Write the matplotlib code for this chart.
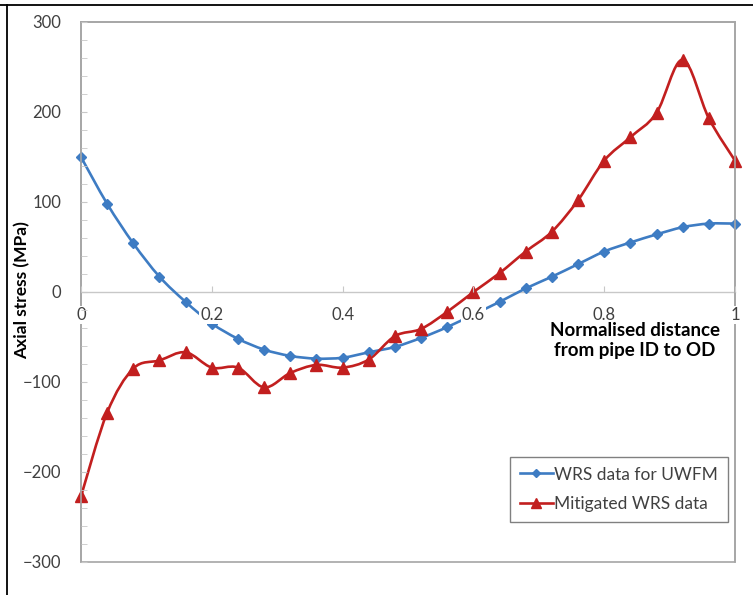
import matplotlib.pyplot as plt
from matplotlib.path import Path
from matplotlib.patches import PathPatch, Rectangle
from matplotlib.lines import Line2D
import numpy as np

# Data
distance = [0.00, 0.04, 0.08, 0.12, 0.16, 0.20, 0.24, 0.28, 0.32, 0.36, 0.40, 0.44, 0.48,
            0.52, 0.56, 0.60, 0.64, 0.68, 0.72, 0.76, 0.80, 0.84, 0.88, 0.92, 0.96, 1.00]
wrs_uwfm = [150, 98, 54, 17, -11, -35, -52, -64, -71, -74, -73, -67, -61,
            -51, -39, -25, -11, 4, 17, 31, 45, 55, 64, 72, 76, 76]
wrs_mitigated = [-227, -134, -85, -76, -67, -84, -84, -106, -90, -81, -84, -75, -49,
                 -41, -22, 0, 21, 45, 67, 102, 146, 172, 199, 258, 193, 146]
series_labels = ["WRS data for UWFM", "Mitigated WRS data"]
x_ticks = [0, 0.2, 0.4, 0.6, 0.8, 1.0]
x_tick_labels = ["0", "0.2", "0.4", "0.6", "0.8", "1"]
y_ticks = [-300, -200, -100, 0, 100, 200, 300]

blue = "#3E7CC3"
red = "#C21F1F"
grey = "#A6A6A6"
text_col = "#404040"

plt.rcParams['font.family'] = ['Lato', 'DejaVu Sans']


def smooth_path(xs, ys):
    # Excel style smoothed line: cubic bezier segments through each point
    pts = np.column_stack([xs, ys]).astype(float)
    n = len(pts)
    verts = [pts[0]]
    codes = [Path.MOVETO]
    for i in range(n - 1):
        p0 = pts[i - 1] if i > 0 else pts[i]
        p1 = pts[i]
        p2 = pts[i + 1]
        p3 = pts[i + 2] if i + 2 < n else pts[i + 1]
        c1 = p1 + (p2 - p0) / 6.0
        c2 = p2 - (p3 - p1) / 6.0
        verts += [c1, c2, p2]
        codes += [Path.CURVE4] * 3
    return Path(verts, codes)


fig = plt.figure(figsize=(7.53, 5.95), dpi=100)
ax = fig.add_axes([81 / 753, 1 - 562 / 595, 654 / 753, 540 / 595])
ax.set_axisbelow(False)  # tick labels sit on top of the curves, as in Excel

for ys, col, mk, ms in [(wrs_uwfm, blue, 'D', 5.5), (wrs_mitigated, red, '^', 8)]:
    ax.add_patch(PathPatch(smooth_path(distance, ys), fill=False, edgecolor=col,
                           linewidth=1.9, zorder=2))
    ax.plot(distance, ys, ls='none', marker=mk, markersize=ms, color=col,
            clip_on=False, zorder=2.1)

ax.set_xlim(0, 1)
ax.set_ylim(-300, 300)

# axis through zero, frame around the plot area
for s in ['left', 'right', 'top']:
    ax.spines[s].set_color(grey)
    ax.spines[s].set_linewidth(1.2)
ax.spines['bottom'].set_position(('data', 0))
ax.spines['bottom'].set_color("#C8C8C8")
ax.spines['bottom'].set_linewidth(1.0)
ax.spines['bottom'].set_zorder(1.5)
ax.add_patch(Rectangle((0, 0), 1, 1, transform=ax.transAxes, fill=False,
                       edgecolor=grey, linewidth=1.2, zorder=1, clip_on=False))

ax.set_xticks(x_ticks)
ax.set_xticklabels(x_tick_labels)
ax.set_yticks(y_ticks)
ax.set_yticks(range(-300, 301, 20), minor=True)
ax.tick_params(axis='x', direction='in', length=4, color="#C8C8C8", pad=11,
               labelsize=12, labelcolor=text_col)
ax.tick_params(axis='y', which='both', direction='in', length=4, color="#C8C8C8",
               pad=14, labelsize=12, labelcolor=text_col)
ax.tick_params(axis='x', which='minor', length=0)
for lbl in ax.get_xticklabels():
    lbl.set_bbox(dict(facecolor='white', edgecolor='none', pad=0.6))

fig.text(0.029, 0.512, "Axial stress (MPa)", rotation=90, ha='center', va='center',
         fontsize=12.5, fontweight='bold', color='black')
ax.text(0.847, -54, "Normalised distance\nfrom pipe ID to OD", ha='center', va='center',
        fontsize=13.5, fontweight='bold', color='black', linespacing=1.2)

handles = [Line2D([], [], color=blue, marker='D', markersize=4.5, linewidth=1.9),
           Line2D([], [], color=red, marker='^', markersize=7, linewidth=1.9)]
leg = ax.legend(handles, series_labels, loc='upper left',
                bbox_to_anchor=((510 - 81) / 654, (562 - 457) / 540),
                borderaxespad=0, fontsize=12.5, fancybox=False, framealpha=1,
                edgecolor="#808080", handlelength=1.9, handletextpad=0.1,
                labelspacing=0.8, borderpad=0.55, labelcolor=text_col)
leg.get_frame().set_linewidth(1.0)
leg.set_zorder(5)

# outer frame of the screenshot (top and left)
fig.add_artist(Line2D([0, 1], [1 - 5 / 595] * 2, transform=fig.transFigure,
                      color='black', linewidth=1.3))
fig.add_artist(Line2D([7 / 753] * 2, [0, 1 - 5 / 595], transform=fig.transFigure,
                      color='black', linewidth=1.3))

fig.savefig("out.png", dpi=100)
